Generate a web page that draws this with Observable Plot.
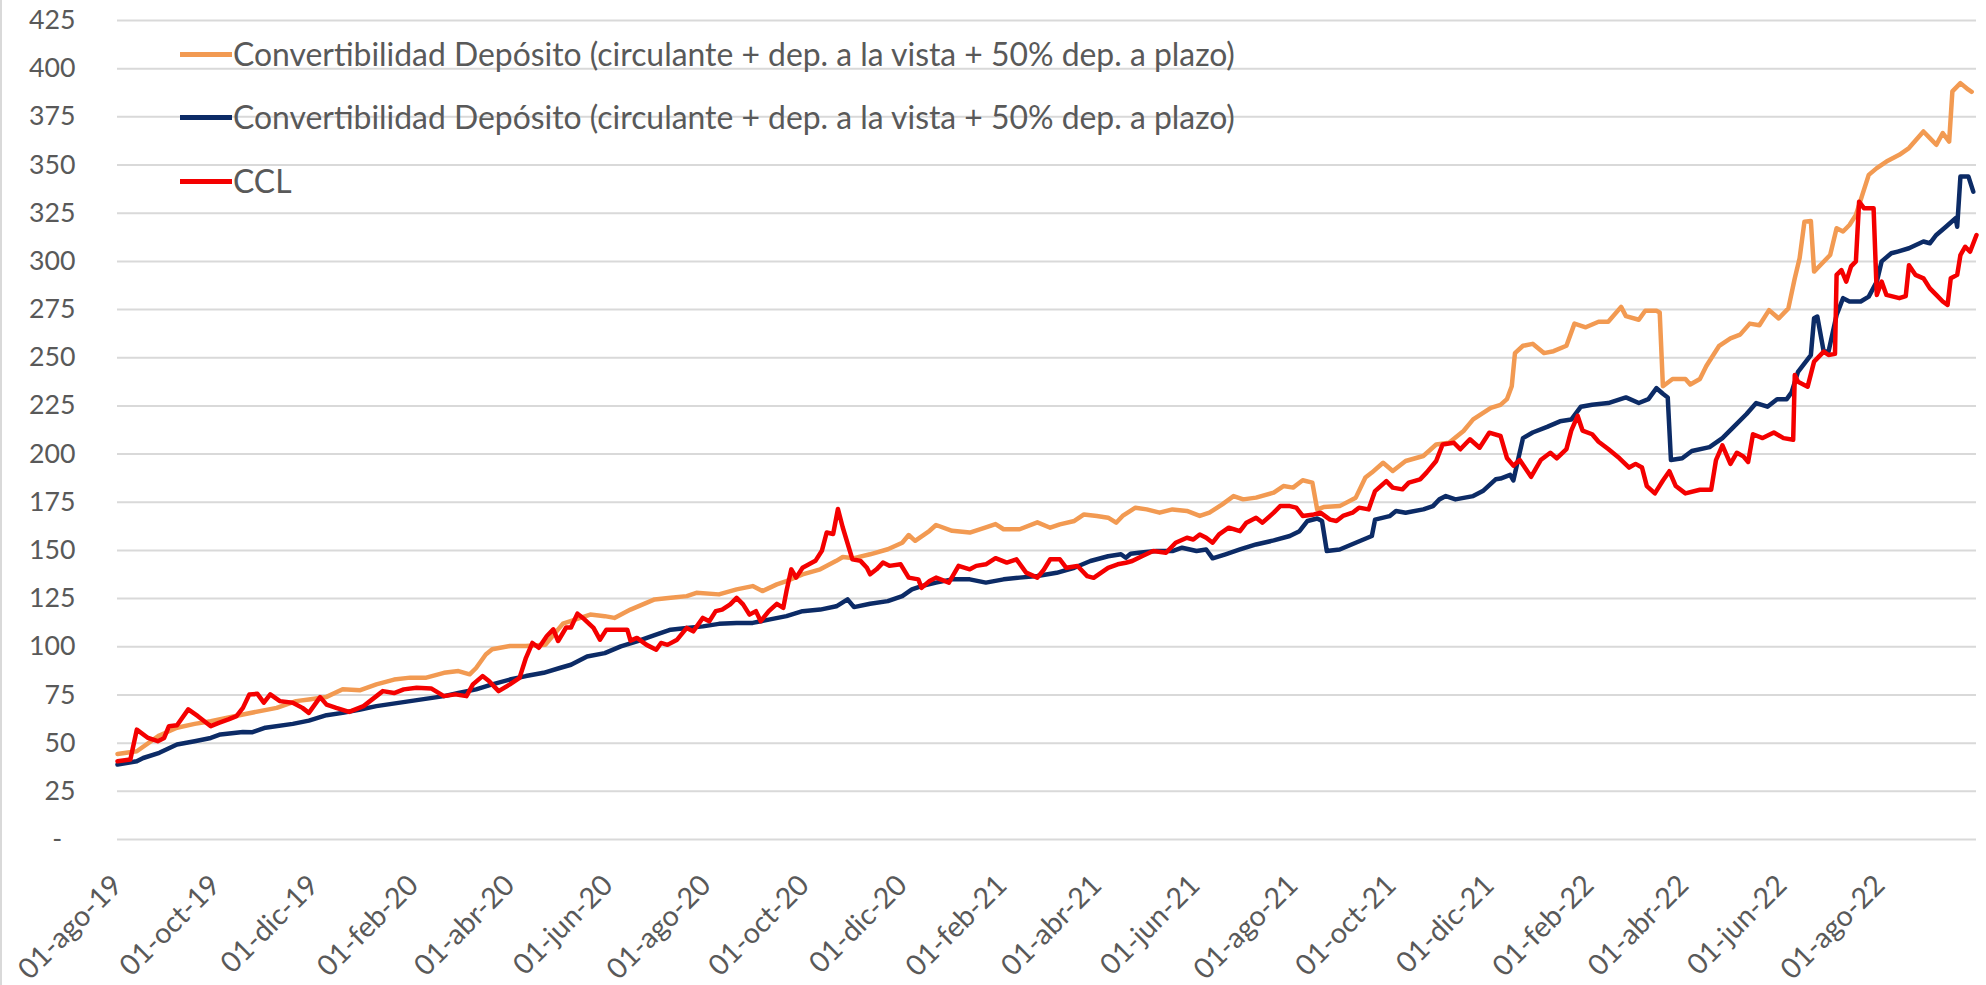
<!DOCTYPE html>
<html><head><meta charset="utf-8">
<script src="https://cdn.jsdelivr.net/npm/d3@7"></script>
<script src="https://cdn.jsdelivr.net/npm/@observablehq/plot@0.6"></script>
<style>
html,body{margin:0;padding:0;background:#fff;}
#chart{position:relative;width:1986px;height:985px;overflow:hidden;background:#fff;}
#edge{position:absolute;left:0;top:0;width:2px;height:985px;background:#d9d9d9;}
.item{position:absolute;left:180px;display:flex;align-items:center;white-space:nowrap;color:#595959;height:40px;}
.sw{display:inline-block;width:52px;height:5px;flex:none;margin-right:1px;}
</style></head><body><div id="chart"><div id="edge"></div></div>
<script>
const FONT = "Lato, 'Open Sans', sans-serif";
const labelConv = "Convertibilidad Depósito (circulante + dep. a la vista + 50% dep. a plazo)";
const seriesNames = [labelConv, labelConv, "CCL"];
const seriesColors = ["#F29A52", "#0C2B66", "#F40000"];
const yTicks = [0, 25, 50, 75, 100, 125, 150, 175, 200, 225, 250, 275, 300, 325, 350, 375, 400, 425];
const xTicks = ["2019-08-01","2019-10-01","2019-12-01","2020-02-01","2020-04-01","2020-06-01","2020-08-01","2020-10-01","2020-12-01","2021-02-01","2021-04-01","2021-06-01","2021-08-01","2021-10-01","2021-12-01","2022-02-01","2022-04-01","2022-06-01","2022-08-01"];
const monthsEs = ["ene","feb","mar","abr","may","jun","jul","ago","sep","oct","nov","dic"];
const xDomain = ["2019-08-01", "2022-09-30"];

const conv1 = [
["2019-08-01",44.4],["2019-08-13",45.8],["2019-08-27",54],["2019-09-07",58],["2019-09-18",60],["2019-09-28",61.4],["2019-10-18",64.9],["2019-11-08",68.3],["2019-11-20",71.8],["2019-11-28",72.7],["2019-12-09",74],["2019-12-19",78],["2019-12-30",77.5],["2020-01-09",80.5],["2020-01-20",83],["2020-01-30",84],["2020-02-09",84],["2020-02-20",86.5],["2020-02-29",87.4],["2020-03-07",85.7],["2020-03-11",89],["2020-03-17",96],["2020-03-21",98.7],["2020-04-01",100.4],["2020-04-11",100.4],["2020-04-23",101],["2020-05-04",112],["2020-05-21",116.7],["2020-05-30",115.9],["2020-06-05",115],["2020-06-15",119.3],["2020-06-30",124.6],["2020-07-10",125.4],["2020-07-20",126.3],["2020-07-26",128],["2020-08-09",127.2],["2020-08-20",129.8],["2020-08-30",131.5],["2020-09-05",128.9],["2020-09-14",132.4],["2020-09-20",134.1],["2020-09-30",137.6],["2020-10-11",140.2],["2020-10-21",144.6],["2020-10-25",146.6],["2020-11-01",146],["2020-11-11",148],["2020-11-22",150.6],["2020-12-01",154],["2020-12-05",158],["2020-12-09",155],["2020-12-18",160.2],["2020-12-22",163.2],["2021-01-01",160.2],["2021-01-12",159.3],["2021-01-22",162],["2021-01-28",163.7],["2021-02-02",161],["2021-02-12",161],["2021-02-23",164.6],["2021-03-03",161.8],["2021-03-09",163.5],["2021-03-18",165.3],["2021-03-24",168.7],["2021-04-01",167.9],["2021-04-08",167],["2021-04-13",164.4],["2021-04-17",167.9],["2021-04-25",172.2],["2021-05-02",171.3],["2021-05-10",169.6],["2021-05-18",171.3],["2021-05-27",170.5],["2021-06-04",167.9],["2021-06-10",169.6],["2021-06-18",173.9],["2021-06-25",178.2],["2021-07-01",176.5],["2021-07-09",177.4],["2021-07-20",180],["2021-07-26",183.4],["2021-08-01",182.6],["2021-08-07",186.4],["2021-08-13",185.2],["2021-08-16",171.3],["2021-08-20",172.5],["2021-08-30",173],["2021-09-09",177.4],["2021-09-15",187.8],["2021-09-19",190.4],["2021-09-26",195.5],["2021-10-02",191.2],["2021-10-10",196.4],["2021-10-21",199],["2021-10-29",205],["2021-11-06",205.9],["2021-11-15",212],["2021-11-21",218],["2021-12-02",224],["2021-12-08",225.5],["2021-12-12",228.5],["2021-12-15",235.2],["2021-12-17",252.4],["2021-12-22",256.2],["2021-12-28",257.2],["2022-01-04",252.4],["2022-01-10",253.4],["2022-01-18",256.2],["2022-01-23",267.7],["2022-01-30",265.8],["2022-02-07",268.7],["2022-02-13",268.7],["2022-02-21",276.4],["2022-02-24",271.6],["2022-03-04",269.7],["2022-03-08",274.4],["2022-03-15",274.4],["2022-03-17",273.5],["2022-03-19",235.2],["2022-03-25",239],["2022-04-02",239],["2022-04-05",236.1],["2022-04-11",239],["2022-04-15",245.7],["2022-04-23",256.2],["2022-04-30",260.1],["2022-05-06",262],["2022-05-12",267.7],["2022-05-18",266.9],["2022-05-24",274.7],["2022-05-30",270.4],["2022-06-05",275.6],["2022-06-09",291.2],["2022-06-12",301.6],["2022-06-15",320.6],["2022-06-19",321],["2022-06-21",294.7],["2022-06-25",298.1],["2022-07-01",303.3],["2022-07-05",317.2],["2022-07-09",315.5],["2022-07-13",318.9],["2022-07-17",324.1],["2022-07-21",334.5],["2022-07-25",344.9],["2022-07-30",348.4],["2022-08-05",351.8],["2022-08-13",355.3],["2022-08-19",358.8],["2022-08-28",367.4],["2022-09-01",364],["2022-09-05",360.5],["2022-09-09",366.6],["2022-09-13",362.2],["2022-09-15",388.2],["2022-09-20",392.5],["2022-09-25",389.1],["2022-09-27",388]
];

const conv2 = [
["2019-08-01",38.9],["2019-08-13",40.6],["2019-08-17",42.3],["2019-08-27",45],["2019-09-07",49.3],["2019-09-18",51],["2019-09-28",52.7],["2019-10-04",54.5],["2019-10-18",55.8],["2019-10-24",55.7],["2019-11-01",58],["2019-11-18",60],["2019-11-28",61.7],["2019-12-09",64.5],["2019-12-19",65.7],["2019-12-30",67.5],["2020-01-09",69.2],["2020-01-30",71.8],["2020-02-20",74.4],["2020-02-29",76],["2020-03-11",77.9],["2020-03-21",80.5],["2020-04-01",83],["2020-04-11",84.8],["2020-04-22",86.5],["2020-05-02",89],["2020-05-09",90.7],["2020-05-19",95],["2020-05-30",96.7],["2020-06-09",100.2],["2020-06-19",102.8],["2020-06-30",106],["2020-07-10",108.9],["2020-07-20",109.8],["2020-07-30",110.6],["2020-08-09",111.9],["2020-08-20",112.4],["2020-08-30",112.4],["2020-09-09",114.1],["2020-09-20",115.9],["2020-09-30",118.5],["2020-10-11",119.3],["2020-10-21",121],["2020-10-28",124.6],["2020-11-01",120.6],["2020-11-11",122.3],["2020-11-22",123.7],["2020-12-01",126.3],["2020-12-07",129.8],["2020-12-13",131.5],["2020-12-22",133.3],["2021-01-01",135],["2021-01-12",135],["2021-01-22",133.3],["2021-02-02",135],["2021-02-12",135.9],["2021-02-23",136.7],["2021-03-07",138.4],["2021-03-18",141],["2021-03-28",144.5],["2021-04-08",147],["2021-04-16",148],["2021-04-19",146.2],["2021-04-22",148.3],["2021-04-27",148.8],["2021-05-08",149.7],["2021-05-18",149.7],["2021-05-24",151.4],["2021-06-02",149.7],["2021-06-08",150.5],["2021-06-12",145.9],["2021-06-20",148],["2021-06-29",150.5],["2021-07-09",153.1],["2021-07-20",155.2],["2021-07-30",157.5],["2021-08-05",160],["2021-08-10",165.3],["2021-08-16",166.6],["2021-08-19",165.3],["2021-08-22",149.7],["2021-08-30",150.5],["2021-09-09",154],["2021-09-19",157.5],["2021-09-21",166],["2021-09-30",167.8],["2021-10-04",170.5],["2021-10-10",169.6],["2021-10-21",171.3],["2021-10-27",173],["2021-10-31",176.5],["2021-11-04",178.2],["2021-11-10",176.5],["2021-11-21",178.2],["2021-11-27",180.8],["2021-12-05",186.9],["2021-12-08",187.3],["2021-12-14",189.2],["2021-12-16",186.3],["2021-12-22",208.3],["2021-12-28",211.2],["2022-01-06",214.1],["2022-01-14",217],["2022-01-21",217.9],["2022-01-27",224.6],["2022-02-03",225.6],["2022-02-13",226.5],["2022-02-24",229.4],["2022-03-04",226.5],["2022-03-10",228.5],["2022-03-15",234.2],["2022-03-19",231.3],["2022-03-22",229.4],["2022-03-24",196.9],["2022-03-31",197.8],["2022-04-06",201.6],["2022-04-17",203.6],["2022-04-25",208.3],["2022-05-02",214.1],["2022-05-10",220.8],["2022-05-16",226.5],["2022-05-23",224.6],["2022-05-29",228.5],["2022-06-04",228.5],["2022-06-07",232],["2022-06-11",242.7],["2022-06-19",251.4],["2022-06-21",270.5],["2022-06-23",271.4],["2022-06-27",253.2],["2022-06-30",253.2],["2022-07-05",272.2],["2022-07-09",280.9],["2022-07-13",279.2],["2022-07-20",279.2],["2022-07-25",281.7],["2022-07-30",289.5],["2022-08-02",300],["2022-08-08",304.2],["2022-08-12",305.1],["2022-08-19",306.8],["2022-08-28",310.3],["2022-09-01",309.4],["2022-09-05",313.7],["2022-09-11",318],["2022-09-17",322.4],["2022-09-18",318],["2022-09-20",344],["2022-09-25",344],["2022-09-28",336.2]
];

const ccl = [
["2019-08-01",40.6],["2019-08-09",41.5],["2019-08-13",57],["2019-08-20",52.7],["2019-08-26",51],["2019-08-30",52.7],["2019-09-02",58.8],["2019-09-07",59.3],["2019-09-14",67.5],["2019-09-20",64],["2019-09-28",58.8],["2019-10-03",60.5],["2019-10-09",62.3],["2019-10-14",64],["2019-10-18",68.3],["2019-10-22",75.3],["2019-10-27",75.6],["2019-10-31",71],["2019-11-04",75.3],["2019-11-10",71.8],["2019-11-18",71],["2019-11-24",68.3],["2019-11-28",65.7],["2019-12-05",73.9],["2019-12-09",70],["2019-12-15",68.3],["2019-12-23",66.2],["2020-01-01",69.2],["2020-01-09",74.4],["2020-01-13",77],["2020-01-20",76],["2020-01-26",77.9],["2020-02-03",78.7],["2020-02-12",78.4],["2020-02-20",74.4],["2020-02-27",75.3],["2020-03-05",74.4],["2020-03-09",80.5],["2020-03-15",84.8],["2020-03-19",82.2],["2020-03-25",77],["2020-04-01",80.5],["2020-04-07",83.9],["2020-04-11",94.3],["2020-04-15",102],["2020-04-19",99.5],["2020-04-24",105.6],["2020-04-28",109],["2020-05-01",103],["2020-05-06",110],["2020-05-09",110],["2020-05-13",117.2],["2020-05-17",114.5],["2020-05-23",109.8],["2020-05-27",103.7],["2020-05-31",108.9],["2020-06-09",108.9],["2020-06-13",108.9],["2020-06-15",103.2],["2020-06-19",104.6],["2020-06-25",101],["2020-07-01",98.5],["2020-07-04",102],["2020-07-08",101],["2020-07-14",103.7],["2020-07-20",109.8],["2020-07-24",108],["2020-07-30",115],["2020-08-03",113.3],["2020-08-07",118.5],["2020-08-11",119.3],["2020-08-16",122],["2020-08-20",125.4],["2020-08-24",122],["2020-08-28",116.7],["2020-09-01",118.5],["2020-09-04",113.3],["2020-09-09",118.5],["2020-09-14",122.3],["2020-09-18",120.2],["2020-09-20",128.9],["2020-09-23",140.2],["2020-09-26",135.9],["2020-09-30",141],["2020-10-04",142.8],["2020-10-08",144.6],["2020-10-12",149.8],["2020-10-15",159.3],["2020-10-19",158.5],["2020-10-22",171.5],["2020-10-25",161.9],["2020-10-31",145.4],["2020-11-05",144.6],["2020-11-09",141],["2020-11-11",137.6],["2020-11-15",140.2],["2020-11-19",143.7],["2020-11-23",142],["2020-11-30",142.8],["2020-12-05",135.9],["2020-12-11",135],["2020-12-13",130.6],["2020-12-18",134.1],["2020-12-22",135.9],["2020-12-30",133.3],["2021-01-05",142],["2021-01-12",140.2],["2021-01-16",142],["2021-01-22",142.8],["2021-01-28",146],["2021-02-04",143.7],["2021-02-10",145.4],["2021-02-16",138.5],["2021-02-23",135.9],["2021-02-27",140],["2021-03-03",145.4],["2021-03-09",145.4],["2021-03-13",141],["2021-03-20",141.9],["2021-03-26",136.7],["2021-03-30",135.8],["2021-04-08",141],["2021-04-14",142.8],["2021-04-19",143.6],["2021-04-23",144.5],["2021-04-29",147],["2021-05-06",149.7],["2021-05-14",148.8],["2021-05-20",154],["2021-05-27",156.6],["2021-05-31",155.7],["2021-06-04",158.3],["2021-06-08",156.6],["2021-06-12",154],["2021-06-16",158.3],["2021-06-22",161.8],["2021-06-29",160],["2021-07-03",164.4],["2021-07-09",167],["2021-07-13",164.4],["2021-07-20",169.6],["2021-07-24",173],["2021-07-30",173],["2021-08-03",172.2],["2021-08-07",167.9],["2021-08-14",168.7],["2021-08-18",169.6],["2021-08-24",166],["2021-08-28",165.3],["2021-09-01",167.9],["2021-09-07",169.6],["2021-09-11",172.2],["2021-09-17",171.3],["2021-09-21",180.8],["2021-09-28",186],["2021-10-02",182.6],["2021-10-08",181.7],["2021-10-12",185.2],["2021-10-19",186.9],["2021-10-23",190.4],["2021-10-29",196.4],["2021-11-02",205],["2021-11-09",205.9],["2021-11-13",202.5],["2021-11-19",207.7],["2021-11-25",203.3],["2021-12-01",211.1],["2021-12-08",209.4],["2021-12-12",198],["2021-12-16",194],["2021-12-20",196.9],["2021-12-27",188.2],["2022-01-02",196.9],["2022-01-08",200.7],["2022-01-12",197.8],["2022-01-18",202.6],["2022-01-21",212.2],["2022-01-25",219.8],["2022-01-28",212.2],["2022-02-03",210.3],["2022-02-07",206.4],["2022-02-13",202.6],["2022-02-20",197.8],["2022-02-26",193],["2022-03-02",194.9],["2022-03-06",193],["2022-03-09",183.4],["2022-03-14",179.6],["2022-03-19",186.3],["2022-03-23",191.1],["2022-03-27",183.4],["2022-04-02",179.6],["2022-04-11",181.5],["2022-04-18",181.5],["2022-04-21",196.9],["2022-04-25",204.5],["2022-04-30",194.9],["2022-05-04",200.7],["2022-05-08",198.8],["2022-05-11",195.9],["2022-05-14",210.3],["2022-05-20",208.3],["2022-05-27",211.2],["2022-06-02",208.3],["2022-06-08",207.4],["2022-06-09",241],["2022-06-11",237.5],["2022-06-17",235],["2022-06-21",248],["2022-06-27",253.2],["2022-06-30",251.4],["2022-07-04",252],["2022-07-05",293],["2022-07-08",295.5],["2022-07-11",289.5],["2022-07-14",297.4],["2022-07-17",300],["2022-07-19",331],["2022-07-22",327.6],["2022-07-28",327.6],["2022-07-30",282.6],["2022-08-02",289.5],["2022-08-05",282.6],["2022-08-13",280.9],["2022-08-17",282],["2022-08-19",298],["2022-08-23",293],["2022-08-28",291.2],["2022-09-01",286],["2022-09-05",282.6],["2022-09-09",279.2],["2022-09-12",277.4],["2022-09-14",291.2],["2022-09-18",293],["2022-09-20",303.3],["2022-09-23",307.6],["2022-09-26",305],["2022-09-30",313.7]
];

const seriesData = [conv1, conv2, ccl];
const parse = s => new Date(s + "T00:00:00Z");
const fmtTick = d => "01-" + monthsEs[d.getUTCMonth()] + "-" + String(d.getUTCFullYear()).slice(2);

const ctx = document.createElement("canvas").getContext("2d");
function fit(text, target) { ctx.font = "100px " + FONT; return 100 * target / ctx.measureText(text).width; }
const yTickFS = fit("25", 31);
const xTickFS = fit("01-ago-19", 133);
const legendFS = fit(labelConv, 1003);

const plot = Plot.plot({
  width: 1986, height: 985,
  marginLeft: 117, marginRight: 10, marginTop: 20, marginBottom: 146,
  style: {fontFamily: FONT, color: "#595959", background: "transparent", overflow: "visible"},
  x: {type: "utc", domain: xDomain.map(parse)},
  y: {domain: [0, 425]},
  marks: [
    Plot.ruleY(yTicks, {stroke: "#d9d9d9", strokeWidth: 2}),
    Plot.axisY({ticks: yTicks, tickSize: 0, tickPadding: 42, fontSize: yTickFS, label: null,
      tickFormat: d => d === 0 ? "-\u2002" : String(d)}),
    Plot.axisX({ticks: xTicks.map(parse), tickFormat: fmtTick, tickRotate: -45, tickSize: 0, tickPadding: 41,
      textAnchor: "end", lineAnchor: "middle", dx: 0, fontSize: xTickFS, label: null}),
    ...seriesData.map((s, i) => Plot.line(s, {x: d => parse(d[0]), y: d => d[1], stroke: seriesColors[i], strokeWidth: 4.5, strokeLinejoin: "round"}))
  ]
});
const chart = document.getElementById("chart");
plot.style.position = "absolute"; plot.style.left = "0"; plot.style.top = "0";
chart.appendChild(plot);

const legendY = [54, 117, 181];
seriesNames.forEach((name, i) => {
  const it = document.createElement("div");
  it.className = "item";
  it.style.top = (legendY[i] - 20) + "px";
  it.style.fontFamily = FONT;
  it.style.fontSize = legendFS + "px";
  const sw = document.createElement("span");
  sw.className = "sw"; sw.style.background = seriesColors[i];
  const tx = document.createElement("span");
  tx.textContent = name;
  it.appendChild(sw); it.appendChild(tx);
  chart.appendChild(it);
});
</script></body></html>
